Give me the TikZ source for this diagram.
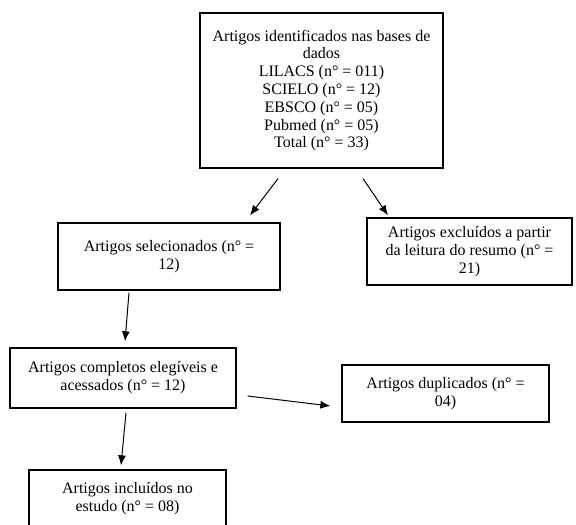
\documentclass[tikz,border=0pt]{standalone}
\usepackage{fontspec}
\setmainfont{Liberation Serif}
\usetikzlibrary{arrows.meta}
\tikzset{box/.style={draw, line width=1.3pt, align=center, inner sep=0pt, font=\fontsize{16}{17.8}\selectfont}}
\tikzset{arr/.style={-{Latex[length=10pt, width=8pt]}, line width=1pt}}

\begin{document}
\begin{tikzpicture}[x=1pt, y=1pt]
            \clip (0, 0) rectangle (576, 525);
            \node[box, minimum width=243pt, minimum height=155pt] (ident) at (321.5, 434.5)
                {Artigos identificados nas bases de\\dados\\LILACS (n° = 011)\\SCIELO (n° = 12)\\EBSCO (n° = 05)\\Pubmed (n° = 05)\\Total (n° = 33)};
            \node[box, minimum width=222pt, minimum height=67pt] (sel) at (169, 268.5)
                {Artigos selecionados (n° =\\12)};
            \node[box, minimum width=205pt, minimum height=67pt] (excl) at (469.5, 273.5)
                {Artigos excluídos a partir\\da leitura do resumo (n° =\\21)};
            \node[box, minimum width=226pt, minimum height=60pt] (compl) at (123, 147)
                {Artigos completos elegíveis e\\acessados (n° = 12)};
            \node[box, minimum width=207pt, minimum height=57pt] (dup) at (445.5, 131.5)
                {Artigos duplicados (n° =\\04)};
            \node[box, minimum width=197pt, minimum height=58pt] (incl) at (127.5, 26)
                {Artigos incluídos no\\estudo (n° = 08)};
            \draw[arr] ([xshift=-43.5pt, yshift=-10pt]ident.south) -- ([xshift=81pt, yshift=7pt]sel.north);
            \draw[arr] ([xshift=41.5pt, yshift=-10pt]ident.south) -- ([xshift=-81.5pt, yshift=2pt]excl.north);
            \draw[arr] ([xshift=-40pt, yshift=-2pt]sel.south) -- ([xshift=2pt, yshift=6pt]compl.north);
            \draw[arr] ([xshift=3pt, yshift=-4pt]compl.south) -- ([xshift=-6.5pt, yshift=4pt]incl.north);
            \draw[arr] ([xshift=11pt, yshift=-18pt]compl.east) -- ([xshift=-11pt, yshift=-12.5pt]dup.west);
        \end{tikzpicture}
\end{document}
